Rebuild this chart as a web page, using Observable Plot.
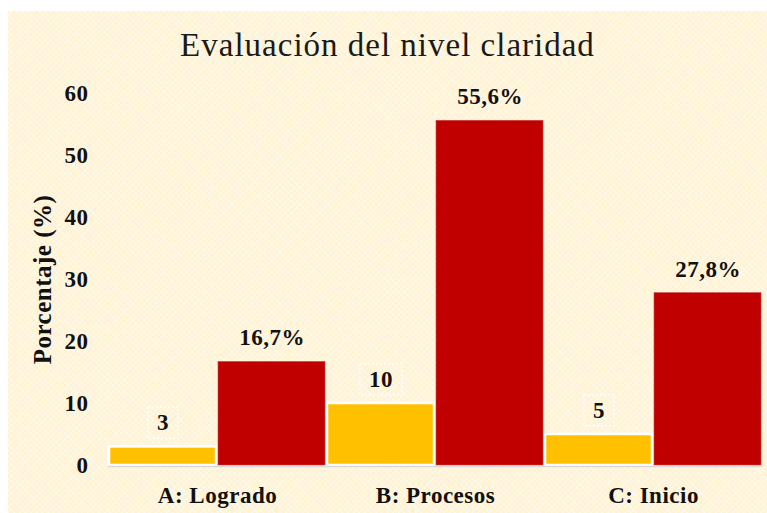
<!DOCTYPE html>
<html>
<head>
<meta charset="utf-8">
<script src="https://cdn.jsdelivr.net/npm/d3@7"></script>
<script src="https://cdn.jsdelivr.net/npm/@observablehq/plot@0.6"></script>
<style>
  html, body { margin: 0; padding: 0; background: #ffffff; width: 767px; height: 513px; overflow: hidden; }
  #panel {
    position: absolute; left: 8px; top: 11px; width: 759px; height: 502px;
    background-color: #FFF3D6;
    background-image:
      repeating-linear-gradient(45deg, rgba(255,255,255,0.35) 0 1px, transparent 1px 4px),
      repeating-linear-gradient(-45deg, rgba(255,255,255,0.35) 0 1px, transparent 1px 4px);
  }
  #title {
    position: absolute; left: 0; top: 18px; width: 759px; height: 32px; line-height: 32px;
    text-align: center; font-family: "Liberation Serif", "Times New Roman", serif;
    font-size: 33px; letter-spacing: 1px; color: #1a1a1a;
  }
  #chart { position: absolute; left: 0; top: 50px; }
  #chart g[aria-label="y-axis label"] text { font-size: 25px; }
</style>
</head>
<body>
<div id="panel">
  <div id="title">Evaluación del nivel claridad</div>
  <div id="chart"></div>
</div>
<script>
const categorias = ["A: Logrado", "B: Procesos", "C: Inicio"];
const series = ["Frecuencia", "Porcentaje"];
const frecuencias = [3, 10, 5];
const porcentajes = [16.7, 55.6, 27.8];
const etiquetasPct = ["16,7%", "55,6%", "27,8%"];
const yTicks = [0, 10, 20, 30, 40, 50, 60];
const colores = ["#FFC000", "#C00000"];

const filas = categorias.flatMap((c, i) => [
  {cat: c, serie: series[0], valor: frecuencias[i], etiqueta: String(frecuencias[i])},
  {cat: c, serie: series[1], valor: porcentajes[i], etiqueta: etiquetasPct[i]}
]);
const filasFrec = filas.filter(d => d.serie === series[0]);
const filasPct = filas.filter(d => d.serie === series[1]);

const chart = Plot.plot({
  width: 759,
  height: 452,
  marginTop: 32,
  marginBottom: 48,
  marginLeft: 100,
  marginRight: 5,
  style: {
    fontFamily: "'Liberation Serif', 'Times New Roman', serif",
    fontSize: "23px",
    fontWeight: "bold",
    letterSpacing: "0.5px",
    background: "transparent",
    color: "#111",
    overflow: "visible"
  },
  fx: {domain: categorias, padding: 0, label: null, axis: "bottom", tickSize: 0, tickPadding: 21},
  x: {domain: series, paddingInner: 0.02, paddingOuter: 0.005, axis: null},
  y: {domain: [0, 60], ticks: yTicks, tickSize: 0, tickPadding: 20, label: "Porcentaje (%)", labelAnchor: "center", labelArrow: "none", labelOffset: 75},
  color: {domain: series, range: colores},
  marks: [
    Plot.barY(filasFrec, {fx: "cat", x: "serie", y: "valor", fill: colores[0], stroke: "#ffffff", strokeWidth: 2.5}),
    Plot.barY(filasPct, {fx: "cat", x: "serie", y: "valor", fill: colores[1], stroke: "#D04040", strokeWidth: 0.6}),
    Plot.ruleY([0], {stroke: "#D9D9D9", strokeWidth: 1.5, dy: 1}),
    Plot.text(filasFrec, {fx: "cat", x: "serie", y: "valor", text: "etiqueta", dy: -24, lineAnchor: "middle", fill: "#111"}),
    Plot.text(filasPct, {fx: "cat", x: "serie", y: "valor", text: "etiqueta", dy: -24, lineAnchor: "middle", fill: "#111"})
  ]
});
document.getElementById("chart").appendChild(chart);

// white dashed boxes around the frequency labels
const etiquetasFrec = new Set(filasFrec.map(d => d.etiqueta));
chart.querySelectorAll('g[aria-label="text"] text').forEach(t => {
  if (!etiquetasFrec.has(t.textContent)) return;
  const b = t.getBBox();
  const r = document.createElementNS("http://www.w3.org/2000/svg", "rect");
  r.setAttribute("x", b.x - 9);
  r.setAttribute("y", b.y - 3);
  r.setAttribute("width", b.width + 18);
  r.setAttribute("height", b.height + 6);
  r.setAttribute("fill", "none");
  r.setAttribute("stroke", "#ffffff");
  r.setAttribute("stroke-width", "1.5");
  r.setAttribute("stroke-dasharray", "2,2");
  if (t.getAttribute("transform")) r.setAttribute("transform", t.getAttribute("transform"));
  t.parentNode.insertBefore(r, t);
});
</script>
</body>
</html>
